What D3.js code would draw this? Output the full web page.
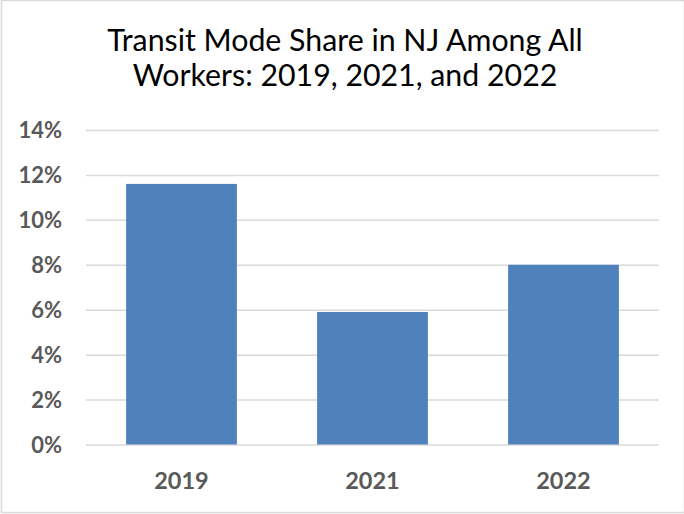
<!DOCTYPE html>
<html>
<head>
<meta charset="utf-8">
<script src="https://cdn.jsdelivr.net/npm/d3@7"></script>
<style>
  html, body { margin: 0; padding: 0; background: #fff; }
  svg { display: block; }
</style>
</head>
<body>
<div id="chart"></div>
<script>
// Column: Transit mode share in NJ among all workers
const years = ["2019", "2021", "2022"];
const shares = [11.6, 5.9, 8.0];
const yTicks = [0, 2, 4, 6, 8, 10, 12, 14];
const titleLines = ["Transit Mode Share in NJ Among All", "Workers: 2019, 2021, and 2022"];

const width = 684, height = 514;
const margin = {top: 130, right: 25, bottom: 69.5, left: 86};
const fontFamily = "Lato, 'Open Sans', sans-serif";
const labelColor = "#595959";

const svg = d3.select("#chart").append("svg")
  .attr("width", width).attr("height", height);

// outer chart-area border
svg.append("rect").attr("x", 1.5).attr("y", 0.5).attr("width", width - 1).attr("height", height - 2)
  .attr("fill", "#fff").attr("stroke", "#d9d9d9").attr("stroke-width", 1.5);

const x = d3.scaleBand().domain(years)
  .range([margin.left, width - margin.right]).paddingInner(0.42).paddingOuter(0.21);

const y = d3.scaleLinear().domain([0, 14])
  .range([height - margin.bottom, margin.top]);

// gridlines
svg.append("g")
  .attr("transform", `translate(${margin.left},0)`)
  .call(d3.axisLeft(y).tickValues(yTicks).tickSize(-(width - margin.left - margin.right)).tickFormat(""))
  .call(g => g.select(".domain").remove())
  .call(g => g.selectAll("line").attr("stroke", "#d9d9d9").attr("stroke-width", 1.5));

// y labels
svg.append("g")
  .attr("transform", `translate(${margin.left - 24},0)`)
  .call(d3.axisLeft(y).tickValues(yTicks).tickSize(0).tickPadding(0).tickFormat(d => d + "%"))
  .call(g => g.select(".domain").remove())
  .call(g => g.selectAll("text")
    .attr("font-family", fontFamily).attr("font-weight", "bold")
    .attr("font-size", 22).attr("fill", labelColor).attr("dy", "0.36em"));

// bars
svg.selectAll("rect.bar").data(years).join("rect").attr("class", "bar")
  .attr("x", d => x(d))
  .attr("y", (d, i) => y(shares[i]))
  .attr("width", x.bandwidth())
  .attr("height", (d, i) => y(0) - y(shares[i]))
  .attr("fill", "#4f81bd");

// x labels
svg.append("g")
  .attr("transform", `translate(0,${height - margin.bottom})`)
  .call(d3.axisBottom(x).tickSize(0).tickPadding(0))
  .call(g => g.select(".domain").remove())
  .call(g => g.selectAll("text")
    .attr("font-family", fontFamily).attr("font-weight", "bold")
    .attr("font-size", 23.5).attr("fill", labelColor).attr("dy", null).attr("y", 44.5));

// title
svg.append("text").attr("text-anchor", "middle")
  .attr("font-family", fontFamily).attr("font-size", 30.3).attr("fill", "#000")
  .selectAll("tspan").data(titleLines).join("tspan")
  .attr("x", 345).attr("y", (d, i) => 51 + i * 35)
  .text(d => d);
</script>
</body>
</html>
